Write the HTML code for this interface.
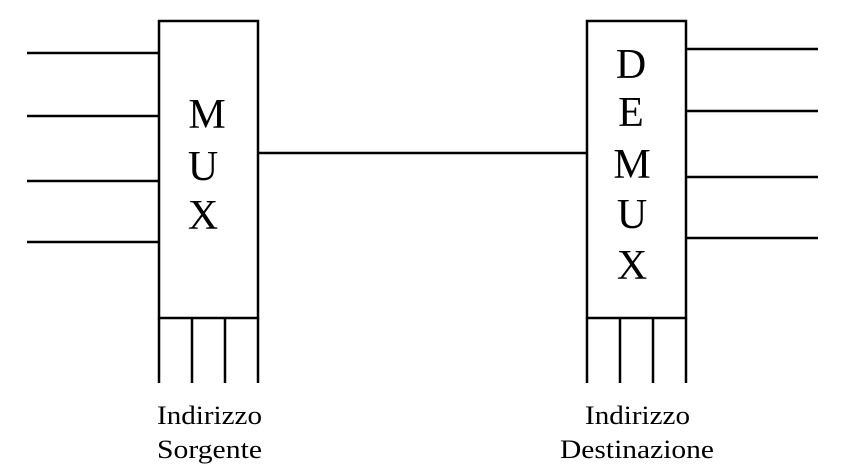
<!DOCTYPE html>
<html><head><style>body{margin:0;background:#fff}</style></head><body>
<svg width="844" height="475" xmlns="http://www.w3.org/2000/svg" style="display:block">
<g stroke="#000" stroke-width="2.5" fill="none">
<rect x="159" y="21" width="99" height="297" fill="#fff"/>
<rect x="587" y="21" width="99" height="297" fill="#fff"/>
<line x1="27" y1="53" x2="159" y2="53"/>
<line x1="27" y1="116" x2="159" y2="116"/>
<line x1="27" y1="181" x2="159" y2="181"/>
<line x1="27" y1="242" x2="159" y2="242"/>
<line x1="258" y1="153" x2="587" y2="153"/>
<line x1="686" y1="49" x2="818" y2="49"/>
<line x1="686" y1="111" x2="818" y2="111"/>
<line x1="686" y1="177" x2="818" y2="177"/>
<line x1="686" y1="238" x2="818" y2="238"/>
<line x1="159" y1="318" x2="159" y2="383"/>
<line x1="192" y1="318" x2="192" y2="383"/>
<line x1="225" y1="318" x2="225" y2="383"/>
<line x1="258" y1="318" x2="258" y2="383"/>
<line x1="587" y1="318" x2="587" y2="383"/>
<line x1="620" y1="318" x2="620" y2="383"/>
<line x1="653" y1="318" x2="653" y2="383"/>
<line x1="686" y1="318" x2="686" y2="383"/>
</g>
<g font-family="Liberation Serif, serif" font-size="42" text-anchor="middle" fill="#000">
<text x="207" y="128">M</text>
<text x="203" y="180">U</text>
<text x="203" y="229">X</text>
<text x="631" y="78">D</text>
<text x="631" y="126">E</text>
<text x="632" y="178">M</text>
<text x="632" y="228">U</text>
<text x="632" y="279">X</text>
</g>
<g font-family="Liberation Serif, serif" font-size="26" fill="#000" lengthAdjust="spacingAndGlyphs">
<text x="157" y="424" textLength="105" lengthAdjust="spacingAndGlyphs">Indirizzo</text>
<text x="157" y="458" textLength="105" lengthAdjust="spacingAndGlyphs">Sorgente</text>
<text x="585" y="424" textLength="105" lengthAdjust="spacingAndGlyphs">Indirizzo</text>
<text x="560" y="458" textLength="154" lengthAdjust="spacingAndGlyphs">Destinazione</text>
</g>
</svg>
</body></html>
